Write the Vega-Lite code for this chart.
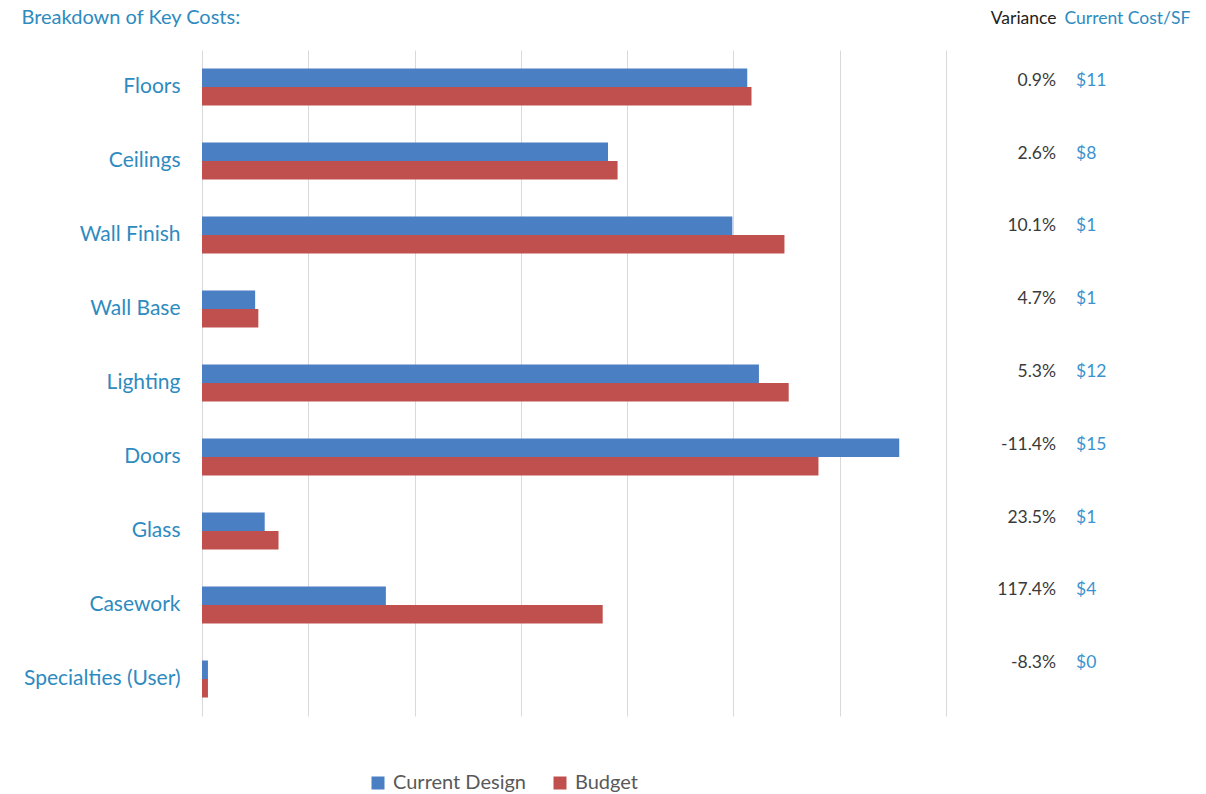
{
  "$schema": "https://vega.github.io/schema/vega-lite/v6.json",
  "background": "white",
  "padding": {"left": 21, "top": 8, "right": 5, "bottom": 5},
  "config": {"view": {"stroke": null}, "concat": {"spacing": 110}},
  "bounds": "flush",
  "datasets": {
    "bars": [
      {"category": "Floors", "series": "Current Design", "value": 5.13},
      {"category": "Floors", "series": "Budget", "value": 5.17},
      {"category": "Ceilings", "series": "Current Design", "value": 3.82},
      {"category": "Ceilings", "series": "Budget", "value": 3.91},
      {"category": "Wall Finish", "series": "Current Design", "value": 4.99},
      {"category": "Wall Finish", "series": "Budget", "value": 5.48},
      {"category": "Wall Base", "series": "Current Design", "value": 0.50},
      {"category": "Wall Base", "series": "Budget", "value": 0.53},
      {"category": "Lighting", "series": "Current Design", "value": 5.24},
      {"category": "Lighting", "series": "Budget", "value": 5.52},
      {"category": "Doors", "series": "Current Design", "value": 6.56},
      {"category": "Doors", "series": "Budget", "value": 5.80},
      {"category": "Glass", "series": "Current Design", "value": 0.59},
      {"category": "Glass", "series": "Budget", "value": 0.72},
      {"category": "Casework", "series": "Current Design", "value": 1.73},
      {"category": "Casework", "series": "Budget", "value": 3.77},
      {"category": "Specialties (User)", "series": "Current Design", "value": 0.056},
      {"category": "Specialties (User)", "series": "Budget", "value": 0.056}
    ],
    "table": [
      {"category": "Floors", "variance": "0.9%", "cost": "$11"},
      {"category": "Ceilings", "variance": "2.6%", "cost": "$8"},
      {"category": "Wall Finish", "variance": "10.1%", "cost": "$1"},
      {"category": "Wall Base", "variance": "4.7%", "cost": "$1"},
      {"category": "Lighting", "variance": "5.3%", "cost": "$12"},
      {"category": "Doors", "variance": "-11.4%", "cost": "$15"},
      {"category": "Glass", "variance": "23.5%", "cost": "$1"},
      {"category": "Casework", "variance": "117.4%", "cost": "$4"},
      {"category": "Specialties (User)", "variance": "-8.3%", "cost": "$0"}
    ]
  },
  "resolve": {"scale": {"y": "independent"}},
  "hconcat": [
    {
      "width": 744,
      "height": 666,
      "data": {"name": "bars"},
      "title": {"text": "Breakdown of Key Costs:", "anchor": "start", "frame": "bounds", "orient": "top", "offset": 22, "dx": -2, "font": "Lato", "fontSize": 20, "fontWeight": "normal", "color": "#2E8BC0"},
      "mark": {"type": "bar"},
      "encoding": {
        "y": {
          "field": "category", "type": "nominal",
          "sort": ["Floors", "Ceilings", "Wall Finish", "Wall Base", "Lighting", "Doors", "Glass", "Casework", "Specialties (User)"],
          "scale": {"paddingInner": 0.5, "paddingOuter": 0.25},
          "axis": {"title": null, "domain": false, "ticks": false, "labelPadding": 22, "labelFont": "Lato", "labelFontSize": 21, "labelColor": "#2E8BC0"}
        },
        "yOffset": {"field": "series", "type": "nominal", "sort": ["Current Design", "Budget"]},
        "x": {
          "field": "value", "type": "quantitative",
          "scale": {"domain": [0, 7], "nice": false},
          "axis": {"title": null, "labels": false, "ticks": false, "domain": false, "grid": true, "values": [0, 1, 2, 3, 4, 5, 6, 7], "gridColor": "#d9d9d9", "gridWidth": 1}
        },
        "color": {
          "field": "series", "type": "nominal",
          "scale": {"domain": ["Current Design", "Budget"], "range": ["#4B7FC4", "#C0504D"]},
          "legend": {"title": null, "orient": "none", "legendX": 166, "legendY": 723, "direction": "horizontal", "symbolType": "square", "symbolSize": 169, "symbolStrokeWidth": 0, "labelFont": "Lato", "labelFontSize": 20, "labelColor": "#595959", "columnPadding": 23, "labelOffset": 5}
        }
      }
    },
    {
      "width": 8,
      "height": 666,
      "data": {"name": "table"},
      "encoding": {
        "y": {
          "field": "category", "type": "nominal",
          "sort": ["Floors", "Ceilings", "Wall Finish", "Wall Base", "Lighting", "Doors", "Glass", "Casework", "Specialties (User)"],
          "scale": {"type": "point", "padding": 0.577, "align": 0.369},
          "axis": null
        }
      },
      "layer": [
        {
          "mark": {"type": "text", "align": "right", "font": "Lato", "fontSize": 17.5, "color": "#3a3a3a"},
          "encoding": {
            "x": {
              "datum": "Variance", "type": "nominal",
              "scale": {"type": "point", "domain": ["Variance", "Current Cost/SF"], "padding": 0},
              "axis": {
                "orient": "top", "title": null, "ticks": false, "domain": false, "grid": false, "labelAngle": 0, "labelPadding": 23,
                "labelFont": "Lato", "labelFontSize": 17.5,
                "labelAlign": {"condition": {"test": "datum.value === 'Variance'", "value": "right"}, "value": "left"},
                "labelColor": {"condition": {"test": "datum.value === 'Variance'", "value": "#222222"}, "value": "#2E8BC0"}
              }
            },
            "text": {"field": "variance"}
          }
        },
        {
          "mark": {"type": "text", "align": "left", "dx": 12, "font": "Lato", "fontSize": 17.5, "color": "#3A93D0"},
          "encoding": {
            "x": {"datum": "Current Cost/SF", "type": "nominal"},
            "text": {"field": "cost"}
          }
        }
      ]
    }
  ]
}
